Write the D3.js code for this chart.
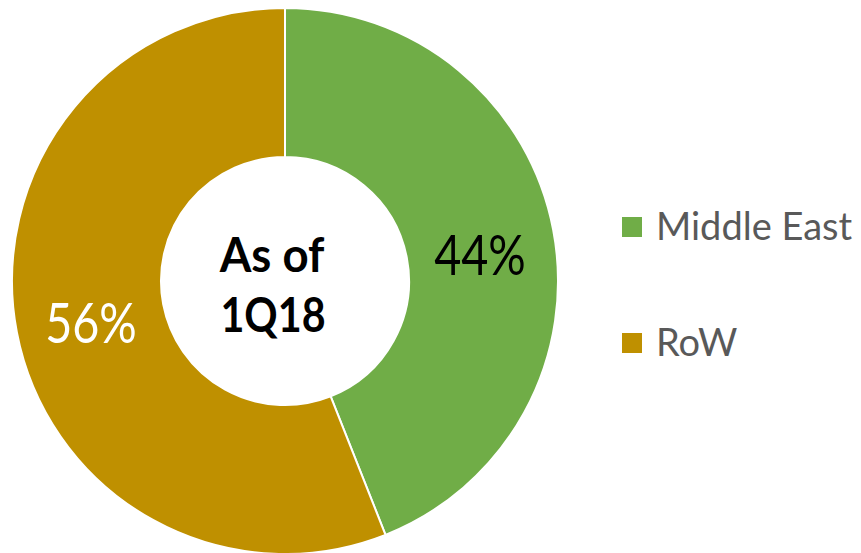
<!DOCTYPE html>
<html><head><meta charset="utf-8">
<script src="https://cdn.jsdelivr.net/npm/d3@7"></script>
<style>body{margin:0;background:#fff}svg{display:block}</style>
</head><body>
<script>
const categories = ["Middle East", "RoW"];
const values = [44, 56];
const labels = ["44%", "56%"];
const colors = ["#70AD47", "#BF9000"];
const labelColors = ["#000000", "#ffffff"];
const centerText = ["As of", "1Q18"];

const W = 861, H = 553;
const cx = 285, cy = 281, R = 273, r = 124;
const svg = d3.select("body").append("svg").attr("width", W).attr("height", H);
const g = svg.append("g").attr("transform", `translate(${cx},${cy})`);
const pie = d3.pie().sort(null).value(d => d)(values);
const arc = d3.arc().innerRadius(r).outerRadius(R);
g.selectAll("path").data(pie).enter().append("path")
  .attr("d", arc).attr("fill", (d,i) => colors[i])
  .attr("stroke", "#fff").attr("stroke-width", 2);

const labelPos = [[195, -6], [-194, 62]];
g.selectAll("text.lab").data(pie).enter().append("text")
  .attr("class","lab")
  .attr("transform", (d,i) => `translate(${labelPos[i][0]},${labelPos[i][1]}) scale(0.82,1)`)
  .attr("text-anchor","middle")
  .attr("font-family","Lato, sans-serif").attr("font-size", 57)
  .attr("fill", (d,i) => labelColors[i]).text((d,i) => labels[i]);

g.append("text").attr("transform","translate(-13,-9) scale(0.95,1)").attr("text-anchor","middle")
  .attr("font-family","Lato, sans-serif").attr("font-weight","bold").attr("font-size",48)
  .text(centerText[0]);
g.append("text").attr("transform","translate(-12,51) scale(0.86,1)").attr("text-anchor","middle")
  .attr("font-family","Lato, sans-serif").attr("font-weight","bold").attr("font-size",48)
  .text(centerText[1]);

const leg = svg.append("g");
const ly = [227, 343];
categories.forEach((c,i) => {
  leg.append("rect").attr("x", 622).attr("y", ly[i]-10).attr("width", 20).attr("height", 20).attr("fill", colors[i]);
  leg.append("text").attr("x", 656).attr("y", ly[i]+13)
    .attr("font-family","Lato, sans-serif").attr("font-size", 38).attr("fill","#595959").text(c);
});
</script>
</body></html>
